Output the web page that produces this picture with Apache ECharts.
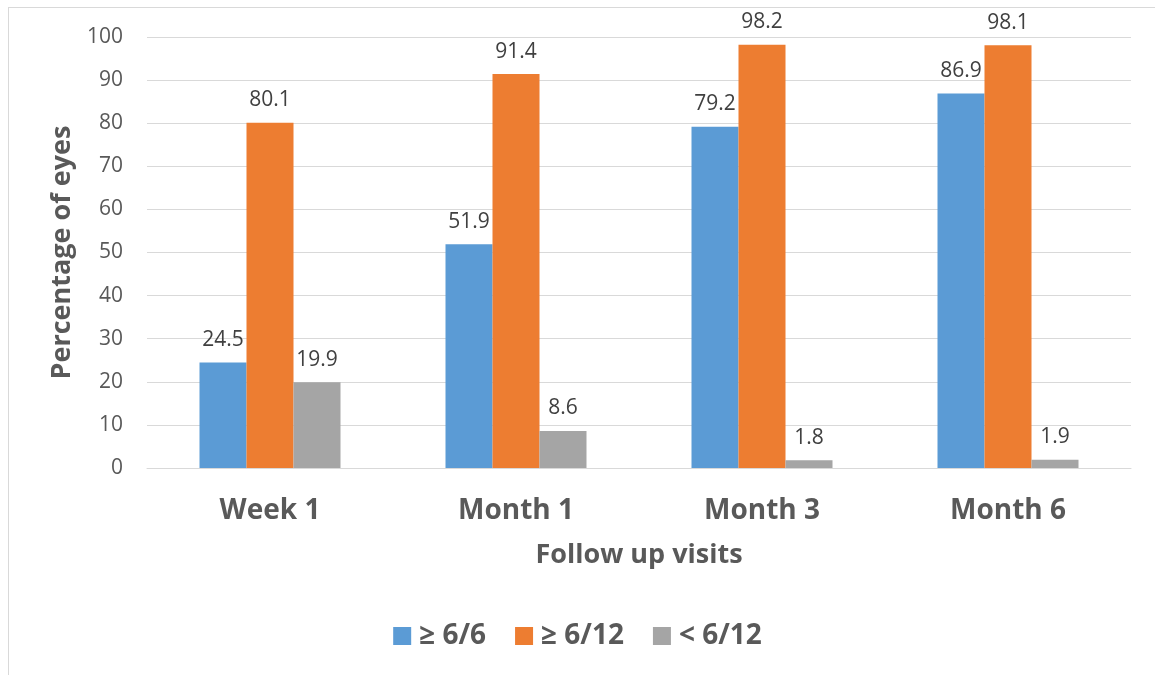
<!DOCTYPE html>
<html>
<head>
<meta charset="utf-8">
<script src="https://cdn.jsdelivr.net/npm/echarts@6/dist/echarts.min.js"></script>
<style>
  html, body { margin: 0; padding: 0; background: #fff; }
  #frame {
    position: absolute; left: 8px; top: 7px; width: 1170px; height: 690px;
    border: 1px solid #d9d9d9;
  }
  #chart { position: absolute; left: 0; top: 0; width: 1155px; height: 675px; }
</style>
</head>
<body>
<div id="frame"></div>
<div id="chart"></div>
<script>
// data
const visits = ['Week 1', 'Month 1', 'Month 3', 'Month 6']
const seriesNames = ['≥ 6/6', '≥ 6/12', '< 6/12']
const good = [24.5, 51.9, 79.2, 86.9]
const fair = [80.1, 91.4, 98.2, 98.1]
const poor = [19.9, 8.6, 1.8, 1.9]
const colors = ['#5B9BD5', '#ED7D31', '#A5A5A5']

const font = 'Open Sans, Liberation Sans, sans-serif'

let myChart = echarts.init(document.getElementById('chart'))

function bar(name, data, color) {
  return {
    name: name,
    type: 'bar',
    data: data,
    barWidth: 47,
    barGap: '0%',
    itemStyle: { color: color },
    label: {
      show: true,
      position: 'top',
      distance: 12,
      color: '#404040',
      fontSize: 21,
      fontFamily: font
    }
  }
}

let option = {
  animation: false,
  grid: { left: 147, right: 24, top: 37, bottom: 207 },
  legend: {
    bottom: 20,
    left: 'center',
    itemWidth: 18,
    itemHeight: 18,
    itemGap: 29,
    icon: 'rect',
    textStyle: { color: '#595959', fontSize: 28, fontWeight: 'bold', fontFamily: font, padding: [0, 0, 0, 3] },
    data: seriesNames
  },
  xAxis: {
    type: 'category',
    data: visits,
    name: 'Follow up visits',
    nameLocation: 'middle',
    nameGap: 74,
    nameTextStyle: { color: '#595959', fontSize: 27, fontWeight: 'bold', fontFamily: font },
    axisLine: { lineStyle: { color: '#d9d9d9', width: 1 } },
    axisTick: { show: false },
    axisLabel: { color: '#595959', fontSize: 28, fontWeight: 'bold', fontFamily: font, margin: 29 }
  },
  yAxis: {
    type: 'value',
    min: 0,
    max: 100,
    interval: 10,
    name: 'Percentage of eyes',
    nameLocation: 'middle',
    nameGap: 67,
    nameTextStyle: { color: '#595959', fontSize: 27, fontWeight: 'bold', fontFamily: font },
    axisLine: { show: false },
    axisTick: { show: false },
    axisLabel: { color: '#595959', fontSize: 21, fontFamily: font, margin: 24 },
    splitLine: { lineStyle: { color: '#d9d9d9', width: 1 } }
  },
  series: [
    bar(seriesNames[0], good, colors[0]),
    bar(seriesNames[1], fair, colors[1]),
    bar(seriesNames[2], poor, colors[2])
  ]
}

option && myChart.setOption(option)
</script>
</body>
</html>
